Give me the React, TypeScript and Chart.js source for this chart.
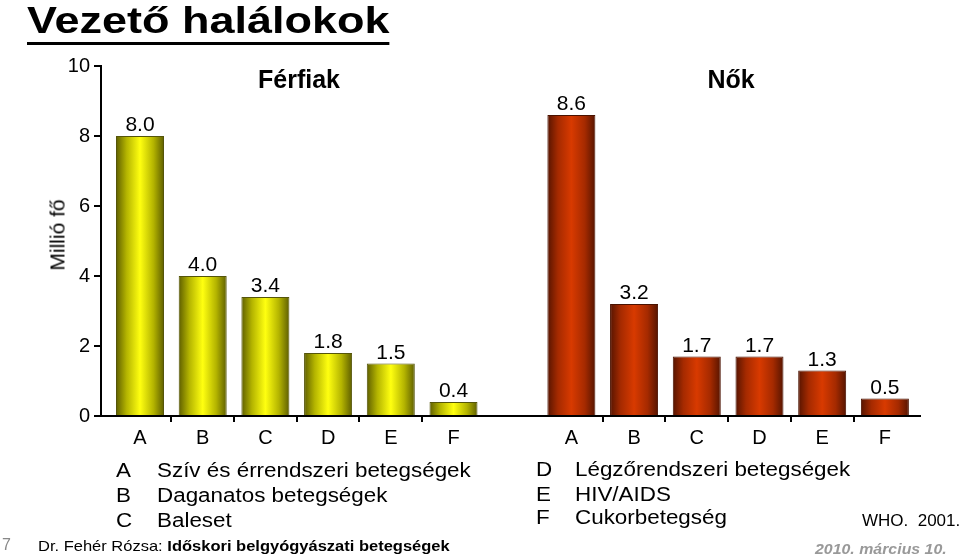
import React, { useEffect, useRef } from 'react';
import { Chart, registerables } from 'chart.js';

Chart.register(...registerables);

// ---------- data ----------
const CATEGORIES = ['A', 'B', 'C', 'D', 'E', 'F'];
const FERFIAK = [8.0, 4.0, 3.4, 1.8, 1.5, 0.4];
const NOK = [8.6, 3.2, 1.7, 1.7, 1.3, 0.5];
const Y_TICKS = [0, 2, 4, 6, 8, 10];
const GROUP_TITLES = ['Férfiak', 'Nők'];
const LEGEND_CODES_LEFT = ['A', 'B', 'C'];
const LEGEND_NAMES_LEFT = ['Szív és érrendszeri betegségek', 'Daganatos betegségek', 'Baleset'];
const LEGEND_CODES_RIGHT = ['D', 'E', 'F'];
const LEGEND_NAMES_RIGHT = ['Légzőrendszeri betegségek', 'HIV/AIDS', 'Cukorbetegség'];
const TITLE = 'Vezető halálokok';
const Y_TITLE = 'Millió fő';
const SOURCE = 'WHO.  2001.';
const SLIDE_NO = '7';
const AUTHOR = 'Dr. Fehér Rózsa: ';
const COURSE = 'Időskori belgyógyászati betegségek';
const DATE = '2010. március 10.';

// ---------- layout ----------
const FONT = "'Liberation Sans', Arial, Helvetica, sans-serif";
const GAP = 6.88; // offset of the second group along the x scale
const X_MIN = -0.622;
const X_MAX = 12.44;

const xPositions = [
  ...CATEGORIES.map((_, i) => i),
  ...CATEGORIES.map((_, i) => GAP + i),
];
const xLabels = [...CATEGORIES, ...CATEGORIES];

function gradient(dark: string, mid: string, light: string) {
  return (ctx: any) => {
    const chart = ctx.chart;
    if (ctx.type !== 'data' || !chart.chartArea || !ctx.parsed) return light;
    const px = chart.scales.x.getPixelForValue(ctx.parsed.x);
    const g = chart.ctx.createLinearGradient(px - 24, 0, px + 24, 0);
    g.addColorStop(0, dark);
    g.addColorStop(0.22, mid);
    g.addColorStop(0.5, light);
    g.addColorStop(0.78, mid);
    g.addColorStop(1, dark);
    return g;
  };
}

const valueLabels = {
  id: 'valueLabels',
  afterDatasetsDraw(chart: any) {
    const ctx = chart.ctx;
    ctx.save();
    ctx.font = `21px ${FONT}`;
    ctx.fillStyle = '#000';
    ctx.textAlign = 'center';
    ctx.textBaseline = 'alphabetic';
    chart.data.datasets.forEach((ds: any, di: number) => {
      const meta = chart.getDatasetMeta(di);
      meta.data.forEach((el: any, i: number) => {
        const v = ds.data[i].y;
        ctx.fillText(v.toFixed(1), el.x, el.y - 5);
      });
    });
    ctx.restore();
  },
};

function Text({ left, top, size, bold, italic, color, children, style, sx }: any) {
  return (
    <div
      style={{
        position: 'absolute',
        left,
        top,
        fontSize: size,
        lineHeight: 1,
        fontWeight: bold ? 'bold' : 'normal',
        fontStyle: italic ? 'italic' : 'normal',
        color: color || '#000',
        whiteSpace: 'pre',
        transformOrigin: 'left top',
        transform: sx ? `scaleX(${sx})` : undefined,
        ...style,
      }}
    >
      {children}
    </div>
  );
}

export default function App() {
  const ref = useRef<HTMLCanvasElement>(null);

  useEffect(() => {
    if (!ref.current) return;
    const chart = new Chart(ref.current, {
      type: 'bar',
      data: {
        datasets: [
          {
            label: GROUP_TITLES[0],
            data: FERFIAK.map((y, i) => ({ x: i, y })),
            backgroundColor: gradient('#5e5e00', '#b4b400', '#ffff10'),
            borderColor: '#55550a',
            borderWidth: 1,
          },
          {
            label: GROUP_TITLES[1],
            data: NOK.map((y, i) => ({ x: GAP + i, y })),
            backgroundColor: gradient('#561400', '#a52a00', '#d83a00'),
            borderColor: '#4a1200',
            borderWidth: 1,
          },
        ] as any,
      },
      options: {
        responsive: false,
        animation: false,
        devicePixelRatio: 1,
        layout: { padding: { left: 0, top: 66, right: 40, bottom: 100 } },
        plugins: {
          legend: { display: false },
          tooltip: { enabled: false },
          title: { display: false },
        },
        datasets: {
          bar: {
            grouped: false,
            barPercentage: 0.766,
            categoryPercentage: 1,
            maxBarThickness: 48,
          },
        } as any,
        scales: {
          x: {
            type: 'linear',
            min: X_MIN,
            max: X_MAX,
            offset: false,
            afterBuildTicks: (s: any) => {
              s.ticks = xPositions.map((v) => ({ value: v }));
            },
            afterFit: (s: any) => {
              s.height = 40;
            },
            ticks: {
              autoSkip: false,
              maxRotation: 0,
              padding: 4,
              color: '#000',
              font: { family: FONT, size: 20 },
              callback: (_v: any, i: number) => xLabels[i],
            },
            grid: {
              drawOnChartArea: false,
              drawTicks: true,
              tickLength: 6,
              lineWidth: 2,
              offset: true,
              color: (ctx: any) =>
                ctx.index === undefined || ctx.index === 0 || ctx.index === CATEGORIES.length
                  ? 'rgba(0,0,0,0)'
                  : '#000',
            },
            border: { display: true, color: '#000', width: 2 },
          } as any,
          y: {
            type: 'linear',
            min: 0,
            max: 10,
            afterBuildTicks: (s: any) => {
              s.ticks = Y_TICKS.map((v) => ({ value: v }));
            },
            afterFit: (s: any) => {
              s.width = 101;
            },
            ticks: {
              padding: 4,
              color: '#000',
              font: { family: FONT, size: 20 },
            },
            grid: {
              drawOnChartArea: false,
              tickLength: 7,
              lineWidth: 2,
              color: '#000',
            },
            border: { display: true, color: '#000', width: 2 },
          } as any,
        },
      },
      plugins: [valueLabels],
    });
    return () => chart.destroy();
  }, []);

  const leftTops = [460, 485, 510];
  const rightTops = [459, 484, 507];
  const LEG_SX = 1.12;

  return (
    <div
      style={{
        position: 'fixed',
        left: 0,
        top: 0,
        width: 960,
        height: 556,
        overflow: 'hidden',
        background: '#fff',
        fontFamily: FONT,
      }}
    >
      <canvas
        ref={ref}
        width={960}
        height={556}
        style={{ position: 'absolute', left: 0, top: 0, width: 960, height: 556, display: 'block' }}
      />
      <Text left={27} top={2} size={37} bold sx={1.216} style={{ borderBottom: '3px solid #000', paddingBottom: 3 }}>
        {TITLE}
      </Text>
      <Text left={299} top={67} size={25} bold style={{ transform: 'translateX(-50%)' }}>
        {GROUP_TITLES[0]}
      </Text>
      <Text left={731} top={67} size={25} bold style={{ transform: 'translateX(-50%)' }}>
        {GROUP_TITLES[1]}
      </Text>
      <Text
        left={57}
        top={235}
        size={21}
        style={{ transformOrigin: 'center center', transform: 'translate(-50%, -50%) rotate(-90deg)' }}
      >
        {Y_TITLE}
      </Text>
      {LEGEND_CODES_LEFT.map((c, i) => (
        <React.Fragment key={'l' + c}>
          <Text left={116} top={leftTops[i]} size={20} sx={LEG_SX}>{c}</Text>
          <Text left={157} top={leftTops[i]} size={20} sx={LEG_SX}>{LEGEND_NAMES_LEFT[i]}</Text>
        </React.Fragment>
      ))}
      {LEGEND_CODES_RIGHT.map((c, i) => (
        <React.Fragment key={'r' + c}>
          <Text left={536} top={rightTops[i]} size={20} sx={LEG_SX}>{c}</Text>
          <Text left={575} top={rightTops[i]} size={20} sx={LEG_SX}>{LEGEND_NAMES_RIGHT[i]}</Text>
        </React.Fragment>
      ))}
      <Text left={862} top={512} size={17}>{SOURCE}</Text>
      <Text left={2} top={537} size={16} color="#888">{SLIDE_NO}</Text>
      <Text left={38} top={538} size={15} sx={1.1}>
        {AUTHOR}
        <span style={{ fontWeight: 'bold' }}>{COURSE}</span>
      </Text>
      <Text left={815} top={541} size={15} bold italic color="#999" sx={1.06}>{DATE}</Text>
    </div>
  );
}
